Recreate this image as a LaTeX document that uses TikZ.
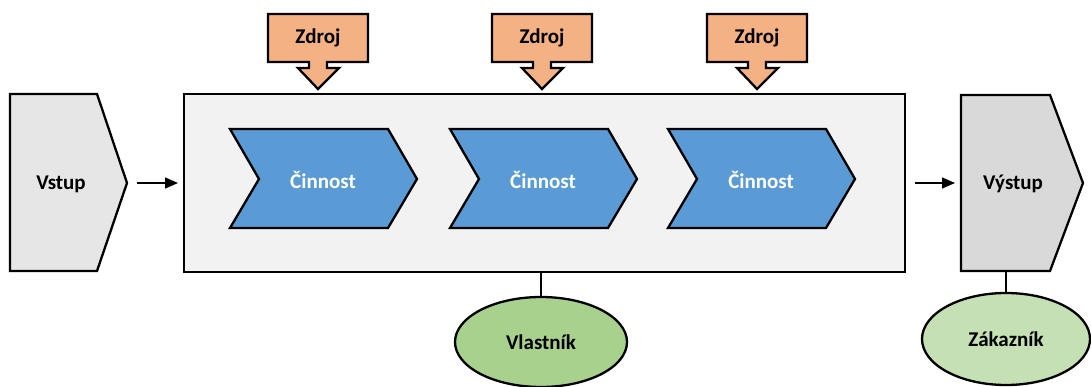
\documentclass[tikz,border=0pt]{standalone}
\usepackage{fontspec}
\setmainfont{Carlito}
\usetikzlibrary{arrows.meta,shapes.geometric}
\definecolor{inGray}{HTML}{E6E6E6}
\definecolor{outGray}{HTML}{D9D9D9}
\definecolor{procGray}{HTML}{F2F2F2}
\definecolor{actBlue}{HTML}{5B9BD5}
\definecolor{resOrange}{HTML}{F4B183}
\definecolor{ownGreen}{HTML}{A9D18E}
\definecolor{custGreen}{HTML}{C5E0B4}
\begin{document}
\begin{tikzpicture}[x=1pt,y=-1pt,line join=miter,
  outline/.style={draw=black,line width=2.3pt},
  txt/.style={font=\fontsize{21}{24}\selectfont\bfseries,text=black,inner sep=0pt},
  flow/.style={-{Triangle[length=13pt,width=11pt]},line width=1.4pt},
  link/.style={line width=2pt}]
\useasboundingbox (0,0) rectangle (1091,387);

% input
\draw[outline,fill=inGray] (10,94) -- (97,94) -- (127,183) -- (97,271) -- (10,271) -- cycle;
\node[txt] (vstup) at (61,184) {Vstup};
\coordinate (vstupTip) at (127,183);

% process frame
\node[outline,fill=procGray,minimum width=721pt,minimum height=178pt,
      anchor=north west,inner sep=0pt] (proc) at (183,93) {};

% activities
\foreach \x/\n in {230/1,450/2,668/3}{
  \draw[outline,fill=actBlue] (\x,129) -- (\x+158,129) -- (\x+187,179)
    -- (\x+158,228) -- (\x,228) -- (\x+29,179) -- cycle;
  \node[txt,text=white] (act\n) at (\x+93,180) {Činnost};
}

% resources
\foreach \c/\n in {318/1,542/2,757/3}{
  \draw[outline,fill=resOrange] (\c-50,14) -- (\c+50,14) -- (\c+50,62)
    -- (\c+9,62) -- (\c+9,68) -- (\c+21,68) -- (\c,89) -- (\c-20,68)
    -- (\c-9,68) -- (\c-9,62) -- (\c-50,62) -- cycle;
  \node[txt] (zdroj\n) at (\c,38) {Zdroj};
}

% output
\draw[outline,fill=outGray] (961,95) -- (1050,95) -- (1083,183) -- (1050,271) -- (961,271) -- cycle;
\node[txt] (vystup) at (1013,184) {Výstup};
\coordinate (vystupIn) at (961,183);
\coordinate (vystupBase) at (1006,271);

% flow arrows
\draw[flow,shorten <=10pt,shorten >=5pt] (vstupTip) -- (proc.west |- vstupTip);
\draw[flow,shorten <=9pt,shorten >=6pt] (proc.east |- vystupIn) -- (vystupIn);

% owner and customer
\node[ellipse,outline,fill=ownGreen,minimum width=172pt,minimum height=90pt,txt] (owner) at (541,342) {Vlastník};
\draw[link] (owner.north) -- (owner.north |- proc.south);
\node[ellipse,outline,fill=custGreen,minimum width=168pt,minimum height=92pt,txt] (cust) at (1006,339) {Zákazník};
\draw[link] (cust.north) -- (vystupBase);
\end{tikzpicture}
\end{document}
